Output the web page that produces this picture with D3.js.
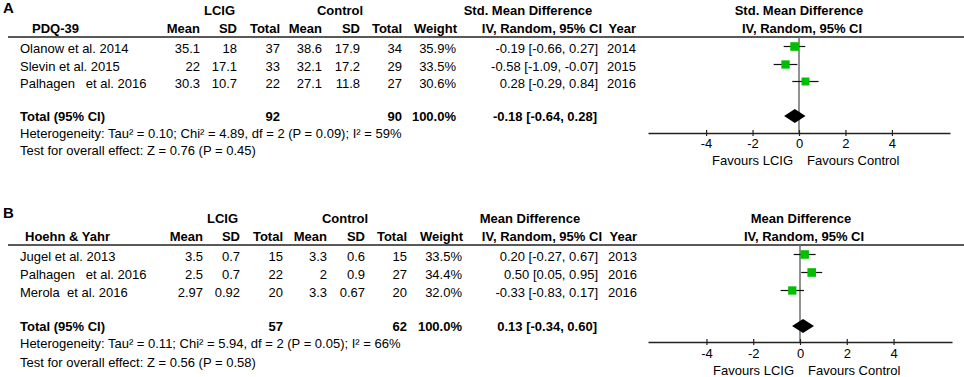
<!DOCTYPE html>
<html>
<head>
<meta charset="utf-8">
<script src="https://cdn.jsdelivr.net/npm/d3@7"></script>
<style>
  html, body { margin: 0; padding: 0; background: #fff; }
  svg text { font-family: "Liberation Sans", Arial, sans-serif; font-size: 13px; fill: #000; white-space: pre; }
</style>
</head>
<body>
<svg id="chart" width="964" height="377"></svg>
<script>
// ---------- DATA ----------
// Panel A: PDQ-39
const studiesA = ["Olanow et al. 2014", "Slevin et al. 2015", "Palhagen   et al. 2016"];
const lcigMeanA = [35.1, 22, 30.3];
const lcigSdA = [18, 17.1, 10.7];
const lcigTotalA = [37, 33, 22];
const ctrlMeanA = [38.6, 32.1, 27.1];
const ctrlSdA = [17.9, 17.2, 11.8];
const ctrlTotalA = [34, 29, 27];
const weightA = [35.9, 33.5, 30.6];
const estA = [-0.19, -0.58, 0.28];
const loA = [-0.66, -1.09, -0.29];
const hiA = [0.27, -0.07, 0.84];
const yearA = [2014, 2015, 2016];
const pooledA = [-0.18, -0.64, 0.28];   // estimate, lower, upper
const totalsA = [92, 90, 100.0];        // LCIG total, control total, weight
const hetA = "Heterogeneity: Tau² = 0.10; Chi² = 4.89, df = 2 (P = 0.09); I² = 59%";
const testA = "Test for overall effect: Z = 0.76 (P = 0.45)";

// Panel B: Hoehn & Yahr
const studiesB = ["Jugel et al. 2013", "Palhagen   et al. 2016", "Merola  et al. 2016"];
const lcigMeanB = [3.5, 2.5, 2.97];
const lcigSdB = [0.7, 0.7, 0.92];
const lcigTotalB = [15, 22, 20];
const ctrlMeanB = [3.3, 2, 3.3];
const ctrlSdB = [0.6, 0.9, 0.67];
const ctrlTotalB = [15, 27, 20];
const weightB = [33.5, 34.4, 32.0];
const estB = [0.20, 0.50, -0.33];
const loB = [-0.27, 0.05, -0.83];
const hiB = [0.67, 0.95, 0.17];
const yearB = [2013, 2016, 2016];
const pooledB = [0.13, -0.34, 0.60];
const totalsB = [57, 62, 100.0];
const hetB = "Heterogeneity: Tau² = 0.11; Chi² = 5.94, df = 2 (P = 0.05); I² = 66%";
const testB = "Test for overall effect: Z = 0.56 (P = 0.58)";

const axisTicks = [-4, -2, 0, 2, 4];
const favoursLeft = "Favours LCIG";
const favoursRight = "Favours Control";

// ---------- LAYOUT ----------
const panels = [
  {
    letter: "A", outcome: "PDQ-39", effectTitle: "Std. Mean Difference",
    studies: studiesA, lm: lcigMeanA, ls: lcigSdA, lt: lcigTotalA,
    cm: ctrlMeanA, cs: ctrlSdA, ct: ctrlTotalA, w: weightA,
    est: estA, lo: loA, hi: hiA, year: yearA, pooled: pooledA, totals: totalsA,
    het: hetA, test: testA,
    y: { letter: 13, group: 15, col: 33, line: 37, rows: [53, 71, 88], total: 121, het: 138, test: 155,
         axis: 133, tick: 148, fav: 165 },
    x: { label: 20, outcome: 32, lm: 200, ls: 237, lt: 280, cm: 322, cs: 360, ct: 402, w: 456, ci: 598, yr: 636,
         lcigC: 219.5, ctrlC: 340, midC: 528, rightC: 799 },
    range: [648, 950]
  },
  {
    letter: "B", outcome: "Hoehn & Yahr", effectTitle: "Mean Difference",
    studies: studiesB, lm: lcigMeanB, ls: lcigSdB, lt: lcigTotalB,
    cm: ctrlMeanB, cs: ctrlSdB, ct: ctrlTotalB, w: weightB,
    est: estB, lo: loB, hi: hiB, year: yearB, pooled: pooledB, totals: totalsB,
    het: hetB, test: testB,
    y: { letter: 218, group: 223, col: 241, line: 245, rows: [261, 279, 297], total: 331, het: 348, test: 367,
         axis: 342, tick: 358, fav: 375 },
    x: { label: 20, outcome: 25, lm: 203, ls: 240, lt: 283, cm: 327, cs: 365, ct: 407, w: 462, ci: 598, yr: 637,
         lcigC: 222.5, ctrlC: 345, midC: 530, rightC: 801 },
    range: [648, 952]
  }
];

const svg = d3.select("#chart");
const f2 = d3.format(".2f");
const fmtCI = (e, l, h) => `${f2(e).replace("−","-")} [${f2(l).replace("−","-")}, ${f2(h).replace("−","-")}]`;
const fmtW = v => v.toFixed(1) + "%";

function txt(g, x, y, s, anchor, bold, size) {
  return g.append("text").attr("x", x).attr("y", y).attr("text-anchor", anchor || "start")
    .attr("font-weight", bold ? "bold" : null).style("font-size", size ? size + "px" : null).text(s);
}

panels.forEach(p => {
  const g = svg.append("g");
  const X = p.x, Y = p.y;

  // letter
  txt(g, 3, Y.letter, p.letter, "start", true, 15);
  // group headers
  txt(g, X.lcigC, Y.group, "LCIG", "middle", true);
  txt(g, X.ctrlC, Y.group, "Control", "middle", true);
  txt(g, X.midC, Y.group, p.effectTitle, "middle", true);
  txt(g, X.rightC, Y.group, p.effectTitle, "middle", true);
  // column headers
  txt(g, X.outcome, Y.col, p.outcome, "start", true);
  txt(g, X.lm, Y.col, "Mean", "end", true);
  txt(g, X.ls, Y.col, "SD", "end", true);
  txt(g, X.lt, Y.col, "Total", "end", true);
  txt(g, X.cm, Y.col, "Mean", "end", true);
  txt(g, X.cs, Y.col, "SD", "end", true);
  txt(g, X.ct, Y.col, "Total", "end", true);
  txt(g, X.w + 1, Y.col, "Weight", "end", true);
  txt(g, X.ci + 4, Y.col, "IV, Random, 95% CI", "end", true);
  txt(g, X.yr, Y.col, "Year", "end", true);
  txt(g, X.rightC + 3, Y.col, "IV, Random, 95% CI", "middle", true);

  // header rule
  g.append("line").attr("x1", 8).attr("x2", 964).attr("y1", Y.line).attr("y2", Y.line)
    .attr("stroke", "#222").attr("stroke-width", 1.5);

  // study rows
  p.studies.forEach((s, i) => {
    const y = Y.rows[i];
    txt(g, X.label, y, s, "start");
    txt(g, X.lm, y, String(p.lm[i]), "end");
    txt(g, X.ls, y, String(p.ls[i]), "end");
    txt(g, X.lt, y, String(p.lt[i]), "end");
    txt(g, X.cm, y, String(p.cm[i]), "end");
    txt(g, X.cs, y, String(p.cs[i]), "end");
    txt(g, X.ct, y, String(p.ct[i]), "end");
    txt(g, X.w, y, fmtW(p.w[i]), "end");
    txt(g, X.ci, y, fmtCI(p.est[i], p.lo[i], p.hi[i]), "end");
    txt(g, X.yr, y, String(p.year[i]), "end");
  });

  // total row
  txt(g, X.label, Y.total, "Total (95% CI)", "start", true);
  txt(g, X.lt, Y.total, String(p.totals[0]), "end", true);
  txt(g, X.ct, Y.total, String(p.totals[1]), "end", true);
  txt(g, X.w, Y.total, fmtW(p.totals[2]), "end", true);
  txt(g, X.ci - 1, Y.total, fmtCI(p.pooled[0], p.pooled[1], p.pooled[2]), "end", true);
  txt(g, X.label, Y.het, p.het, "start");
  txt(g, X.label, Y.test, p.test, "start");

  // forest plot
  const xs = d3.scaleLinear().domain([-6.5, 6.5]).range(p.range);

  // zero line
  g.append("line").attr("x1", xs(0)).attr("x2", xs(0)).attr("y1", Y.line).attr("y2", Y.axis)
    .attr("stroke", "#6e6e6e").attr("stroke-width", 1.5);

  // axis
  const ax = g.append("g").attr("transform", `translate(0,${Y.axis})`)
    .call(d3.axisBottom(xs).tickValues(axisTicks).tickFormat(d => String(d)).tickSizeOuter(0).tickSizeInner(3));
  ax.select(".domain").attr("stroke", "#222").attr("stroke-width", 1.5);
  ax.selectAll(".tick line").attr("y1", -3).attr("y2", 3).attr("stroke", "#222").attr("stroke-width", 1.2);
  ax.selectAll(".tick text").attr("y", Y.tick - Y.axis).attr("dy", null)
    .attr("font-family", null).attr("font-size", null).style("font-size", "13px").attr("fill", "#000");

  txt(g, xs(0) - 6, Y.fav, favoursLeft, "end");
  txt(g, xs(0) + 8, Y.fav, favoursRight, "start");

  // CI whiskers and squares
  const wMax = d3.max(p.w);
  p.est.forEach((e, i) => {
    const cy = Y.rows[i] - 6.5;
    g.append("line").attr("x1", xs(p.lo[i])).attr("x2", xs(p.hi[i])).attr("y1", cy).attr("y2", cy)
      .attr("stroke", "#111").attr("stroke-width", 1.2);
    const sz = 8.6 * Math.sqrt(p.w[i] / wMax);
    g.append("rect").attr("x", xs(e) - sz / 2).attr("y", cy - sz / 2).attr("width", sz).attr("height", sz)
      .attr("fill", "#00bf00");
  });

  // diamond
  const dy = Y.total - 5, h = 7;
  const pts = [[xs(p.pooled[1]), dy], [xs(p.pooled[0]), dy - h], [xs(p.pooled[2]), dy], [xs(p.pooled[0]), dy + h]];
  g.append("path").attr("d", d3.line()(pts) + "Z").attr("fill", "#000");
});
</script>
</body>
</html>
